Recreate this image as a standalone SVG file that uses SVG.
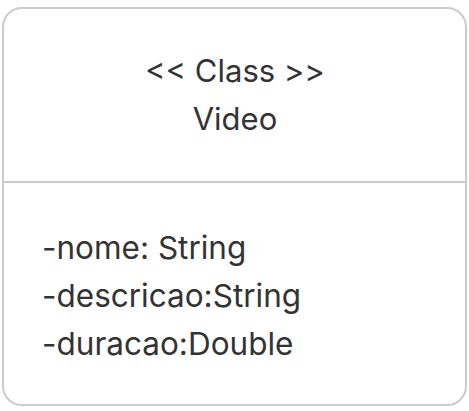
<svg xmlns="http://www.w3.org/2000/svg" width="469" height="411" viewBox="0 0 469 411">
<style>
.box{fill:#ffffff;stroke:#cccccc;stroke-width:2}
.div{stroke:#cccccc;stroke-width:2}
text{font-family:Inter,"Noto Sans","Liberation Sans",sans-serif;font-size:31px;fill:#333333}
.attr{font-size:31.5px}
</style>
<rect width="469" height="411" fill="#ffffff"/>
<g id="node-video">
<rect class="box" x="3" y="8" width="463" height="397" rx="19" ry="19"/>
<line class="div" x1="3" y1="182" x2="466" y2="182"/>
<text x="235" y="82" text-anchor="middle">&lt;&lt; Class &gt;&gt;</text>
<text x="235" y="130" text-anchor="middle">Video</text>
<text class="attr" x="42" y="259">-nome: String</text>
<text class="attr" x="42" y="307">-descricao:String</text>
<text class="attr" x="42" y="355">-duracao:Double</text>
</g>
<g id="connectors"></g>
</svg>
